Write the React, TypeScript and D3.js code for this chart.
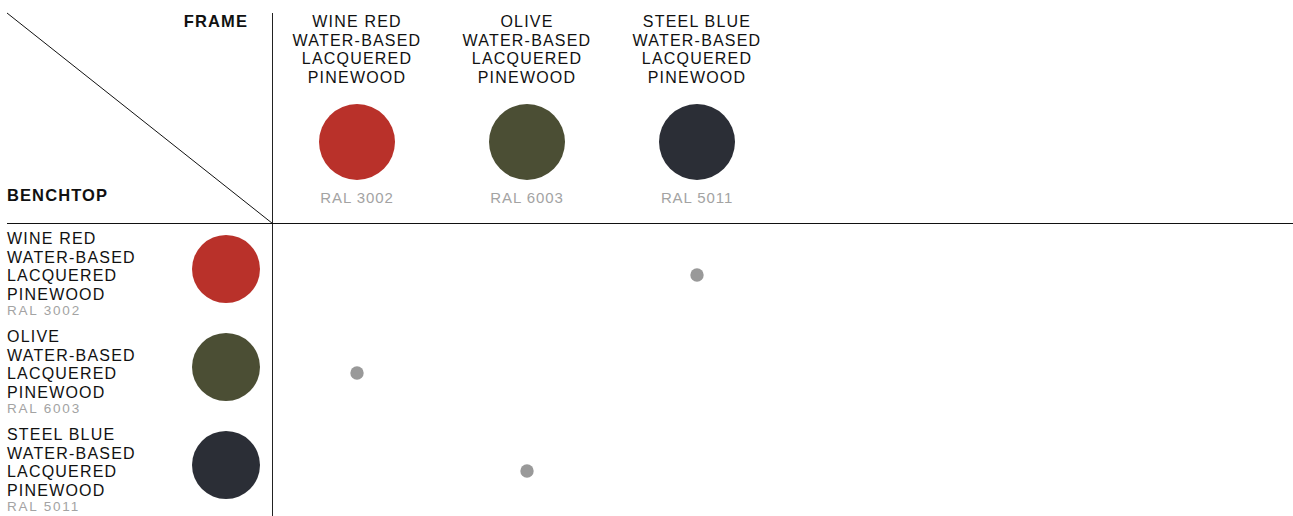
import React from "react";
import * as d3 from "d3";

const finishes = ["WINE RED", "OLIVE", "STEEL BLUE"];
const ralCodes = ["RAL 3002", "RAL 6003", "RAL 5011"];
const swatchColors = ["#b9312a", "#4b4e34", "#2b2e36"];
const subLines = ["WATER-BASED", "LACQUERED", "PINEWOOD"];
// combinations: benchtop finish -> frame finish
const comboBenchtop = ["WINE RED", "OLIVE", "STEEL BLUE"];
const comboFrame = ["STEEL BLUE", "WINE RED", "OLIVE"];

const W = 1293;
const H = 516;
const FONT = "'Liberation Sans', Arial, sans-serif";

export default function App() {
  const x = d3.scalePoint<string>().domain(finishes).range([357, 697]);
  const y = d3.scalePoint<string>().domain(finishes).range([269, 465]);
  const yDot = d3.scalePoint<string>().domain(finishes).range([275, 471]);
  const divX = 272.5;
  const divY = 223.5;
  const lh = 18.7;

  return (
    <svg width={W} height={H} style={{ position: "absolute", left: 0, top: 0 }} fontFamily={FONT}>
      <rect width={W} height={H} fill="#fff" />
      {/* grid lines */}
      <line x1={7} y1={13} x2={divX} y2={divY} stroke="#111" strokeWidth={1} />
      <line x1={divX} y1={13} x2={divX} y2={H} stroke="#222" strokeWidth={1} />
      <line x1={7} y1={divY} x2={W} y2={divY} stroke="#111" strokeWidth={1} />
      <text x={248} y={27} textAnchor="end" fontSize={16.5} fontWeight="bold" letterSpacing={1.1} fill="#111">FRAME</text>
      <text x={7} y={201} fontSize={16.5} fontWeight="bold" letterSpacing={1.1} fill="#111">BENCHTOP</text>

      {/* column headers */}
      {finishes.map((f, i) => (
        <g key={"c" + f}>
          <text x={x(f)} textAnchor="middle" fontSize={16} letterSpacing={1.2} fill="#111">
            {[f, ...subLines].map((t, j) => (
              <tspan key={j} x={x(f)} y={27 + j * lh}>{t}</tspan>
            ))}
          </text>
          <circle cx={x(f)} cy={142} r={38} fill={swatchColors[i]} />
          <text x={x(f)} y={203} textAnchor="middle" fontSize={15} letterSpacing={0.9} fill="#a3a3a3">{ralCodes[i]}</text>
        </g>
      ))}

      {/* row headers */}
      {finishes.map((f, i) => (
        <g key={"r" + f}>
          <text x={7} fontSize={16} letterSpacing={1.2} fill="#111">
            {[f, ...subLines].map((t, j) => (
              <tspan key={j} x={7} y={(y(f) as number) - 25 + j * lh}>{t}</tspan>
            ))}
          </text>
          <text x={7} y={(y(f) as number) + 46} fontSize={13.5} letterSpacing={1.8} fill="#a3a3a3">{ralCodes[i]}</text>
          <circle cx={226} cy={y(f)} r={34} fill={swatchColors[i]} />
        </g>
      ))}

      {/* combination dots */}
      {comboBenchtop.map((b, i) => (
        <circle key={"d" + i} cx={x(comboFrame[i])} cy={yDot(b)} r={6.7} fill="#999" />
      ))}
    </svg>
  );
}
